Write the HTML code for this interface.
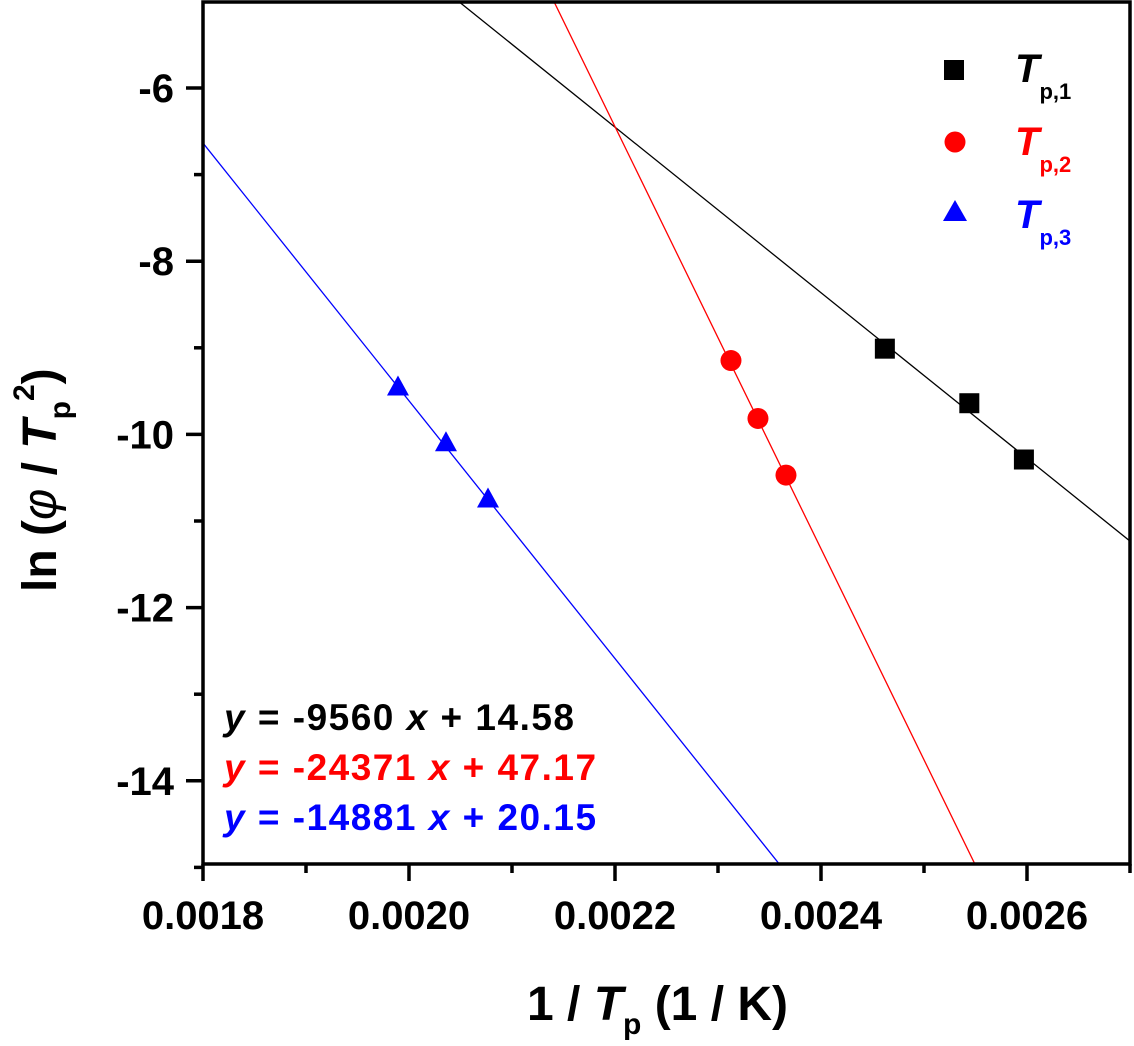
<!DOCTYPE html>
<html><head><meta charset="utf-8"><style>
html,body{margin:0;padding:0;background:#fff;width:1134px;height:1046px;overflow:hidden;}
svg{display:block;font-family:"Liberation Sans",Arial,sans-serif;font-weight:bold;}
</style></head><body>
<svg id="chart" width="1134" height="1046" viewBox="0 0 1134 1046">
<g id="plot"></g>
<g id="axes"></g>
<g id="legend">
  <rect x="944" y="60" width="20" height="20" fill="#000"/>
  <text x="1015" y="82" font-size="40" font-style="italic" fill="#000">T<tspan dy="17" font-size="22" font-style="normal">p,1</tspan></text>
  <circle cx="955" cy="142" r="10.5" fill="#f00"/>
  <text x="1015" y="155" font-size="40" font-style="italic" fill="#f00">T<tspan dy="17" font-size="22" font-style="normal">p,2</tspan></text>
  <polygon points="955,200 967,221 943,221" fill="#00f"/>
  <text x="1015" y="228" font-size="40" font-style="italic" fill="#00f">T<tspan dy="17" font-size="22" font-style="normal">p,3</tspan></text>
</g>
<g font-size="37" letter-spacing="1.5">
  <text x="224" y="730" fill="#000"><tspan font-style="italic">y</tspan> = -9560 <tspan font-style="italic">x</tspan> + 14.58</text>
  <text x="224" y="780" fill="#f00"><tspan font-style="italic">y</tspan> = -24371 <tspan font-style="italic">x</tspan> + 47.17</text>
  <text x="224" y="830" fill="#00f"><tspan font-style="italic">y</tspan> = -14881 <tspan font-style="italic">x</tspan> + 20.15</text>
</g>
<text x="527" y="1020" font-size="48">1 / <tspan font-style="italic">T</tspan><tspan font-size="30" dy="14">p</tspan><tspan dy="-14"> (1 / K)</tspan></text>
<text transform="translate(56,592) rotate(-90)" font-size="48">ln (<tspan font-style="italic" font-weight="normal">φ</tspan> / <tspan font-style="italic">T</tspan><tspan font-size="30" dy="14">p</tspan><tspan font-size="30" dy="-36">2</tspan><tspan dy="22">)</tspan></text>
</svg>
<script>
const xTicks=[0.0018,0.0020,0.0022,0.0024,0.0026];
const yTicks=[-6,-8,-10,-12,-14];
const x1=[0.002462,0.002544,0.002597];
const y1=[-9.01,-9.64,-10.29];
const x2=[0.0023126,0.0023388,0.002366];
const y2=[-9.147,-9.816,-10.47];
const x3=[0.0019893,0.0020359,0.0020767];
const y3=[-9.447,-10.09,-10.74];
const slopes=[-9560,-24371,-14881];
const intercepts=[14.58,47.17,20.15];
const colors=['#000','#f00','#00f'];
const NS='http://www.w3.org/2000/svg';
const X0=203,X1=1130,Y0=2,Y1=864;
function sx(v){return 203+(v-0.0018)*1030000;}
function sy(v){return 88+(-6-v)*86.6;}
function mk(t,a,p){const e=document.createElementNS(NS,t);for(const k in a)e.setAttribute(k,a[k]);p.appendChild(e);return e;}
const plot=document.getElementById('plot'),axes=document.getElementById('axes');
const defs=mk('defs',{},plot);
const cp=mk('clipPath',{id:'cp'},defs);mk('rect',{x:X0,y:Y0,width:X1-X0,height:Y1-Y0},cp);
const lines=mk('g',{'clip-path':'url(#cp)'},plot);
for(let i=0;i<3;i++){
  const xa=0.0018,xb=0.0027;
  const l=mk('line',{x1:sx(xa),y1:sy(slopes[i]*xa+intercepts[i]),x2:sx(xb),y2:sy(slopes[i]*xb+intercepts[i]),stroke:colors[i],'stroke-width':1.3},lines);
  
  
}
x1.forEach((v,i)=>{const e=mk('rect',{x:sx(v)-10,y:sy(y1[i])-10,width:20,height:20,fill:'#000'},plot);

});
x2.forEach((v,i)=>{const e=mk('circle',{cx:sx(v),cy:sy(y2[i]),r:10.5,fill:'#f00'},plot);

});
x3.forEach((v,i)=>{const cx=sx(v),cy=sy(y3[i]);const e=mk('polygon',{points:`${cx},${cy-11} ${cx+11},${cy+9} ${cx-11},${cy+9}`,fill:'#00f'},plot);

});
const fr=mk('rect',{x:X0,y:Y0,width:X1-X0,height:Y1-Y0,fill:'none',stroke:'#000','stroke-width':3.5},axes);


xTicks.forEach(v=>{const x=sx(v);mk('line',{x1:x,y1:Y1,x2:x,y2:Y1+17,stroke:'#000','stroke-width':3.5},axes);
 const m=sx(v+0.0001);if(m<X1)mk('line',{x1:m,y1:Y1,x2:m,y2:Y1+9,stroke:'#000','stroke-width':3.5},axes);
 const t=mk('text',{x:x,y:Y1+65,'font-size':40,'text-anchor':'middle'},axes);t.textContent=v.toFixed(4);
 
 });
yTicks.forEach(v=>{const y=sy(v);mk('line',{x1:X0,y1:y,x2:X0-17,y2:y,stroke:'#000','stroke-width':3.5},axes);
 const m=sy(v+1);if(m>Y0)mk('line',{x1:X0,y1:m,x2:X0-9,y2:m,stroke:'#000','stroke-width':3.5},axes);
 const t=mk('text',{x:174,y:y+14,'font-size':40,'text-anchor':'end'},axes);t.textContent=String(v);
 
 });
{const m=sy(-15);mk('line',{x1:X0,y1:m,x2:X0-9,y2:m,stroke:'#000','stroke-width':3.5},axes);}
</script>
</body></html>
